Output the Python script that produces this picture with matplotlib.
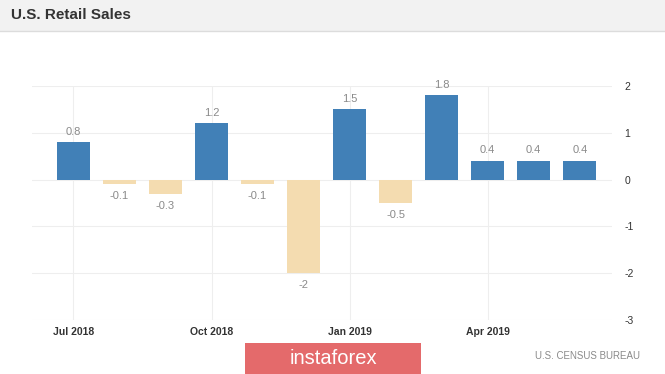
import matplotlib
matplotlib.use('Agg')
import matplotlib.pyplot as plt
from matplotlib.patches import Rectangle

# --- DATA ---
months = ['Jul 2018', 'Aug 2018', 'Sep 2018', 'Oct 2018', 'Nov 2018', 'Dec 2018',
          'Jan 2019', 'Feb 2019', 'Mar 2019', 'Apr 2019', 'May 2019', 'Jun 2019']
values = [0.8, -0.1, -0.3, 1.2, -0.1, -2, 1.5, -0.5, 1.8, 0.4, 0.4, 0.4]
value_labels = ['0.8', '-0.1', '-0.3', '1.2', '-0.1', '-2', '1.5', '-0.5', '1.8', '0.4', '0.4', '0.4']
tick_months = ['Jul 2018', 'Oct 2018', 'Jan 2019', 'Apr 2019']
y_ticks = [2, 1, 0, -1, -2, -3]

BLUE = '#4180b7'
TAN = '#f4dcb0'
GRID = '#eeeeee'

plt.rcParams['font.family'] = ['Liberation Sans', 'DejaVu Sans']

fig = plt.figure(figsize=(6.65, 3.74), dpi=100)
fig.patch.set_facecolor('white')

# header band
fig.patches.append(Rectangle((0, 1 - 31 / 374), 1, 31 / 374, transform=fig.transFigure,
                             facecolor='#f2f2f2', edgecolor='none', zorder=0))
fig.lines.append(plt.Line2D([0, 1], [1 - 31 / 374, 1 - 31 / 374], transform=fig.transFigure,
                            color='#dcdcdc', lw=1))
fig.text(11 / 665, 1 - 15 / 374, 'U.S. Retail Sales', fontsize=11, fontweight='bold',
         color='#333333', va='center', ha='left')

ax = fig.add_axes([32 / 665, 1 - 320 / 374, (612 - 32) / 665, (320 - 86) / 374])
x = list(range(len(months)))
colors = [BLUE if v >= 0 else TAN for v in values]
ax.bar(x, values, width=0.72, color=colors, zorder=3)

for xi, v, lab in zip(x, values, value_labels):
    if v >= 0:
        ax.annotate(lab, (xi, v), xytext=(0, 4), textcoords='offset points',
                    ha='center', va='bottom', fontsize=8, color='#8a8a8a', clip_on=False)
    else:
        ax.annotate(lab, (xi, v), xytext=(0, -5), textcoords='offset points',
                    ha='center', va='top', fontsize=8, color='#8a8a8a', clip_on=False)

ax.set_xlim(-0.9, 11.7)
ax.set_ylim(-3, 2)
ax.set_xticks([months.index(m) for m in tick_months])
ax.set_xticklabels(tick_months, fontsize=7.5, color='#333333', fontweight='semibold')
ax.set_yticks(y_ticks)
ax.set_yticklabels([str(t) for t in y_ticks], fontsize=7.5, color='#333333')
ax.yaxis.tick_right()
ax.tick_params(axis='both', length=0)
ax.tick_params(axis='y', pad=9)
ax.tick_params(axis='x', pad=5)
ax.grid(True, color=GRID, lw=0.8, zorder=0)
for s in ax.spines.values():
    s.set_visible(False)

# watermark + source
fig.patches.append(Rectangle((245 / 665, 0), (421 - 245) / 665, 31 / 374, transform=fig.transFigure,
                             facecolor='#e46a6b', edgecolor='none', zorder=5))
fig.text(333 / 665, 16 / 374, 'instaforex', fontsize=14.5, color='white', ha='center',
         va='center', zorder=6)
fig.text(640 / 665, 18 / 374, 'U.S. CENSUS BUREAU', fontsize=7, color='#8a8a8a',
         ha='right', va='center')

fig.savefig('out.png', dpi=100)
